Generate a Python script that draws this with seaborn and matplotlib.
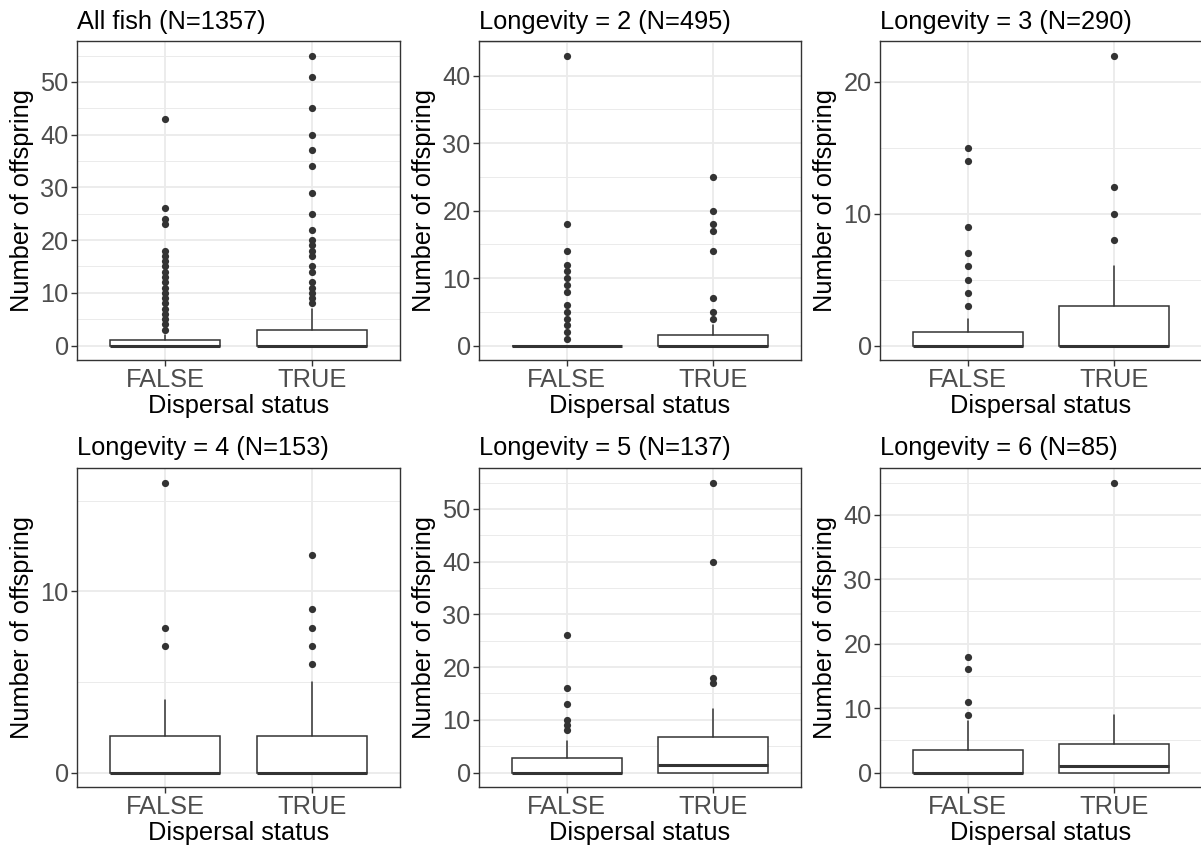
import numpy as np
import pandas as pd
import matplotlib
matplotlib.use("Agg")
import matplotlib.pyplot as plt
from matplotlib.ticker import MultipleLocator
import seaborn as sns

# ---------------- data ----------------
titles = ["All fish (N=1357)", "Longevity = 2 (N=495)", "Longevity = 3 (N=290)",
          "Longevity = 4 (N=153)", "Longevity = 5 (N=137)", "Longevity = 6 (N=85)"]
groups = ["FALSE", "TRUE"]

# box statistics per panel: [FALSE, TRUE]
q1 = [[0, 0], [0, 0], [0, 0], [0, 0], [0, 0], [0, 0]]
med = [[0, 0], [0, 0], [0, 0], [0, 0], [0, 1.5], [0, 1]]
q3 = [[1, 3], [0, 1.5], [1, 3], [2, 2], [2.75, 6.75], [3.5, 4.5]]
whislo = [[0, 0], [0, 0], [0, 0], [0, 0], [0, 0], [0, 0]]
whishi = [[2, 7], [0, 3], [2, 6], [4, 5], [6, 12], [8, 9]]

out_false = [
    [3, 4, 5, 6, 7, 8, 9, 10, 11, 12, 13, 14, 15, 16, 17, 18, 23, 24, 26, 43],
    [1, 2, 3, 4, 5, 6, 8, 9, 10, 11, 12, 14, 18, 43],
    [3, 4, 5, 6, 7, 9, 14, 15],
    [7, 8, 16],
    [8, 9, 10, 13, 16, 26],
    [9, 11, 16, 18],
]
out_true = [
    [8, 9, 10, 11, 12, 14, 15, 17, 18, 19, 20, 22, 25, 29, 34, 37, 40, 45, 51, 55],
    [4, 5, 7, 14, 17, 18, 20, 25],
    [8, 10, 12, 22],
    [6, 7, 8, 9, 12],
    [17, 18, 40, 55],
    [45],
]

xlabel = "Dispersal status"
ylabel = "Number of offspring"

# ---------------- style ----------------
sns.set_theme(style="white")
plt.rcParams["font.family"] = ["Liberation Sans", "DejaVu Sans"]

W, H = 1201, 849
fig = plt.figure(figsize=(W / 100, H / 100), dpi=100)
fig.patch.set_facecolor("white")

lefts = [77, 479, 880]
widths = [323, 322, 322]
tops = [41, 468]
ph = 319

dark = "#333333"
FS = 18.3

for i in range(6):
    r, c = divmod(i, 3)
    l = lefts[c]
    t = tops[r]
    ax = fig.add_axes([l / W, 1 - (t + ph) / H, widths[c] / W, ph / H])

    df = pd.DataFrame({
        "Dispersal": ["FALSE"] * len(out_false[i]) + ["TRUE"] * len(out_true[i]),
        "Offspring": out_false[i] + out_true[i],
    })
    sns.stripplot(data=df, x="Dispersal", y="Offspring", order=groups, ax=ax,
                  jitter=False, color=dark, size=5.2, linewidth=0, zorder=4)

    stats = []
    for g in range(2):
        stats.append(dict(q1=q1[i][g], med=med[i][g], q3=q3[i][g],
                          whislo=whislo[i][g], whishi=whishi[i][g], fliers=[]))
    ax.bxp(stats, positions=[0, 1], widths=0.75, showfliers=False, showcaps=False,
           patch_artist=True, manage_ticks=False,
           boxprops=dict(facecolor="white", edgecolor=dark, linewidth=1.1),
           whiskerprops=dict(color=dark, linewidth=1.1),
           medianprops=dict(color=dark, linewidth=2.2, solid_capstyle="butt"),
           zorder=3)

    allv = [0] + out_false[i] + out_true[i] + whishi[i]
    lo, hi = min(allv), max(allv)
    rng = hi - lo
    ax.set_ylim(lo - 0.05 * rng, hi + 0.05 * rng)
    ax.set_xlim(-0.6, 1.6)

    ax.yaxis.set_major_locator(MultipleLocator(10))
    ax.yaxis.set_minor_locator(MultipleLocator(5))
    ax.set_xticks([0, 1])
    ax.set_xticklabels(groups)

    ax.set_axisbelow(True)
    ax.grid(False)
    ax.yaxis.grid(True, which="major", color="#EBEBEB", linewidth=1.3)
    ax.yaxis.grid(True, which="minor", color="#EBEBEB", linewidth=0.7)
    ax.xaxis.grid(True, which="major", color="#EBEBEB", linewidth=1.3)

    for sp in ax.spines.values():
        sp.set_visible(True)
        sp.set_color(dark)
        sp.set_linewidth(1.0)

    ax.tick_params(axis="both", which="major", direction="out", length=4.5, width=1.0,
                   color=dark, labelcolor="#4D4D4D", labelsize=FS, pad=1.5,
                   left=True, bottom=True)
    ax.tick_params(axis="both", which="minor", length=0)

    ax.set_xlabel(xlabel, fontsize=FS, color="black", labelpad=1)
    ax.set_ylabel(ylabel, fontsize=FS, color="black")
    ax.yaxis.set_label_coords(-43 / widths[c], 0.5)
    ax.set_title(titles[i], loc="left", fontsize=FS, color="black", pad=9)

fig.savefig("out.png", dpi=100, facecolor="white")
